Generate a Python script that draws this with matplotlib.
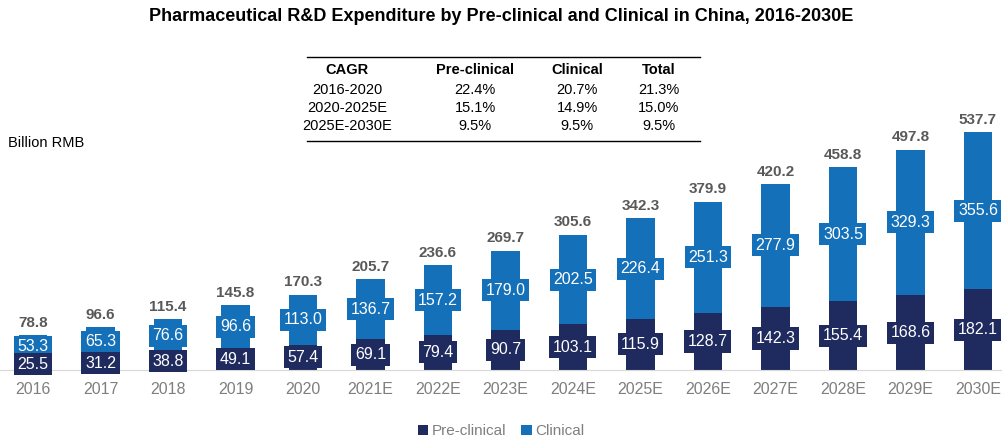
import matplotlib.pyplot as plt
import numpy as np

plt.rcParams['font.family'] = ['Liberation Sans', 'DejaVu Sans']

years = ['2016', '2017', '2018', '2019', '2020', '2021E', '2022E', '2023E',
         '2024E', '2025E', '2026E', '2027E', '2028E', '2029E', '2030E']
pre_clinical = [25.5, 31.2, 38.8, 49.1, 57.4, 69.1, 79.4, 90.7,
                103.1, 115.9, 128.7, 142.3, 155.4, 168.6, 182.1]
clinical = [53.3, 65.3, 76.6, 96.6, 113.0, 136.7, 157.2, 179.0,
            202.5, 226.4, 251.3, 277.9, 303.5, 329.3, 355.6]
totals = [78.8, 96.6, 115.4, 145.8, 170.3, 205.7, 236.6, 269.7,
          305.6, 342.3, 379.9, 420.2, 458.8, 497.8, 537.7]

cagr_header = ['CAGR', 'Pre-clinical', 'Clinical', 'Total']
cagr_rows = [['2016-2020', '22.4%', '20.7%', '21.3%'],
             ['2020-2025E', '15.1%', '14.9%', '15.0%'],
             ['2025E-2030E', '9.5%', '9.5%', '9.5%']]

navy = '#1f2a5e'
blue = '#1470b8'
gray = '#7f7f7f'

fig = plt.figure(figsize=(10.02, 4.41), dpi=100)
ax = fig.add_axes([0, 0.161, 1, 0.771])

x = np.arange(len(years))
ax.bar(x, pre_clinical, width=0.42, color=navy, label='Pre-clinical')
ax.bar(x, clinical, width=0.42, bottom=pre_clinical, color=blue, label='Clinical')

for i in x:
    ax.text(i, pre_clinical[i] + clinical[i] / 2, f'{clinical[i]:.1f}', ha='center',
            va='center', color='white', fontsize=11.5, zorder=4,
            bbox=dict(boxstyle='square,pad=0.22', fc=blue, ec='none'))
    ax.text(i, pre_clinical[i] / 2, f'{pre_clinical[i]:.1f}', ha='center', va='center',
            color='white', fontsize=11.5, zorder=5,
            bbox=dict(boxstyle='square,pad=0.22', fc=navy, ec='none'))
    ax.text(i, totals[i] + 12, f'{totals[i]:.1f}', ha='center', va='bottom',
            color='#595959', fontsize=11, fontweight='bold')

ax.set_xlim(-0.489, 14.356)
ax.set_ylim(0, 768)
ax.set_xticks(x)
ax.set_xticklabels(years, color=gray, fontsize=11.5)
ax.tick_params(axis='x', length=0, pad=9)
ax.set_yticks([])
for s in ['top', 'right', 'left']:
    ax.spines[s].set_visible(False)
ax.spines['bottom'].set_color('#d9d9d9')

fig.text(0.5, 0.962, 'Pharmaceutical R&D Expenditure by Pre-clinical and Clinical in China, 2016-2030E',
         ha='center', va='center', fontsize=13, fontweight='bold')
fig.text(0.008, 0.676, 'Billion RMB', ha='left', va='center', fontsize=10.5)

# CAGR table
col_x = [347, 475, 577, 659]
row_y = [70, 90, 108, 126]
W, H = 1002, 441
fig.add_artist(plt.Line2D([307 / W, 700 / W], [1 - 57 / H, 1 - 57 / H], color='black', lw=1))
fig.add_artist(plt.Line2D([307 / W, 700 / W], [1 - 141 / H, 1 - 141 / H], color='black', lw=1))
for cx, t in zip(col_x, cagr_header):
    fig.text(cx / W, 1 - row_y[0] / H, t, ha='center', va='center', fontsize=10.5,
             fontweight='bold')
for ry, row in zip(row_y[1:], cagr_rows):
    for cx, t in zip(col_x, row):
        fig.text(cx / W, 1 - ry / H, t, ha='center', va='center', fontsize=10.5)

leg = ax.legend(loc='center', bbox_to_anchor=(0.5, -0.18), ncol=2, frameon=False,
                handlelength=0.7, handleheight=0.7, handletextpad=0.2, columnspacing=1.0,
                fontsize=11)
for t in leg.get_texts():
    t.set_color(gray)

fig.savefig('out.png', dpi=100)
